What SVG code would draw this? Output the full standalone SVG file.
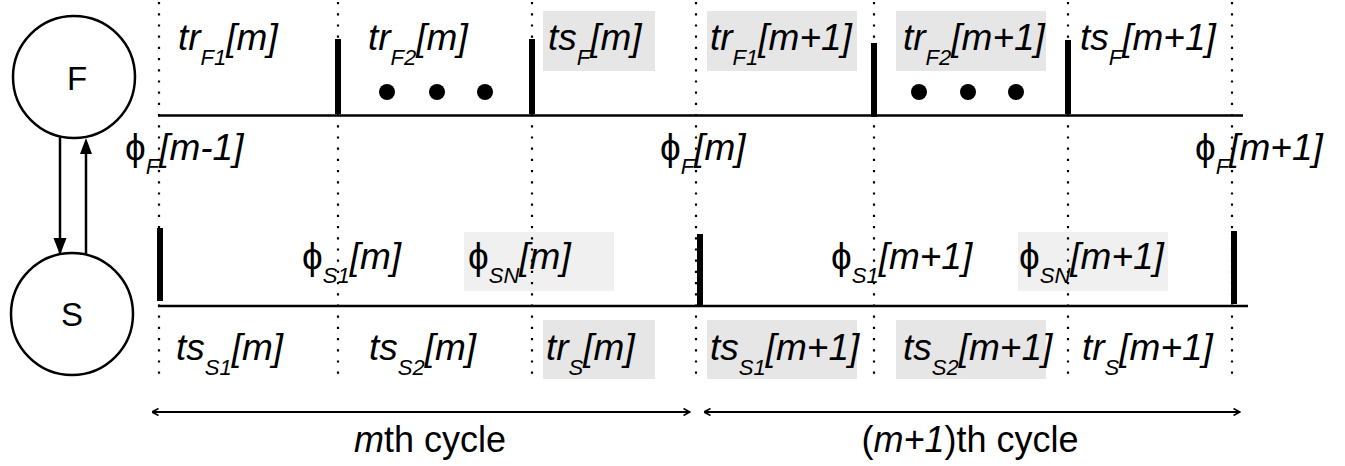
<svg xmlns="http://www.w3.org/2000/svg" width="1345" height="466" viewBox="0 0 1345 466">
<style>
.lbl{font-family:"Liberation Sans",Arial,sans-serif;font-size:37px;font-style:italic;fill:#000}
.up{font-style:normal}
.sub{font-size:22px}
.dot{stroke:#000;stroke-width:2.2;stroke-dasharray:2.2 9;fill:none}
.axis{stroke:#000;stroke-width:2.5;fill:none}
.bar{fill:#000}
.box{fill:#e6e6e6}
.box2{fill:#f0f0f0}
.node{fill:#fff;stroke:#000;stroke-width:2.5}
.ntext{font-family:"Liberation Sans",Arial,sans-serif;font-size:33px;fill:#000;text-anchor:middle}
.cyc{font-family:"Liberation Sans",Arial,sans-serif;font-size:36px;fill:#000;text-anchor:middle}
.conn{stroke:#000;stroke-width:2.5;fill:none}
.span{stroke:#000;stroke-width:2;fill:none}
</style>
<defs>
<marker id="chev" viewBox="0 0 8 8" refX="7.5" refY="4" markerWidth="8" markerHeight="8" markerUnits="userSpaceOnUse" orient="auto-start-reverse">
<path d="M1,0.5 L7.5,4 L1,7.5" fill="none" stroke="#000" stroke-width="1.6"/>
</marker>
</defs>

<g id="boxes">
<rect class="box" x="543" y="11" width="112" height="60"/>
<rect class="box" x="707" y="11" width="150" height="60"/>
<rect class="box" x="896" y="11" width="150" height="60"/>
<rect class="box2" x="464" y="232" width="150" height="59"/>
<rect class="box2" x="1018" y="232" width="150" height="59"/>
<rect class="box" x="543" y="320" width="112" height="59"/>
<rect class="box" x="707" y="320" width="150" height="59"/>
<rect class="box" x="896" y="320" width="150" height="59"/>
</g>

<g id="gridlines">
<line class="dot" x1="159" y1="2" x2="159" y2="378"/>
<line class="dot" x1="338" y1="2" x2="338" y2="378"/>
<line class="dot" x1="532" y1="2" x2="532" y2="378"/>
<line class="dot" x1="696" y1="2" x2="696" y2="378"/>
<line class="dot" x1="874" y1="2" x2="874" y2="378"/>
<line class="dot" x1="1068" y1="2" x2="1068" y2="378"/>
<line class="dot" x1="1232" y1="2" x2="1232" y2="378"/>
</g>

<g id="timeline-F">
<line class="axis" x1="158" y1="115.5" x2="1243" y2="115.5"/>
<rect class="bar" x="335" y="39" width="6" height="75"/>
<rect class="bar" x="529" y="39" width="6" height="75"/>
<rect class="bar" x="871" y="43" width="6" height="74"/>
<rect class="bar" x="1065" y="40" width="6" height="74"/>
<circle cx="387" cy="92" r="8"/>
<circle cx="437" cy="92" r="8"/>
<circle cx="485" cy="92" r="8"/>
<circle cx="919" cy="92" r="8"/>
<circle cx="968" cy="92" r="8"/>
<circle cx="1016" cy="92" r="8"/>
</g>

<g id="timeline-S">
<line class="axis" x1="158" y1="306" x2="1248" y2="306"/>
<rect class="bar" x="157" y="228" width="6" height="73"/>
<rect class="bar" x="697" y="234" width="6" height="71"/>
<rect class="bar" x="1231" y="231" width="6" height="73"/>
</g>

<g id="node-F">
<circle class="node" cx="74" cy="77" r="61"/>
<text class="ntext" x="77" y="90">F</text>
</g>
<g id="node-S">
<circle class="node" cx="72" cy="314" r="61"/>
<text class="ntext" x="72" y="326">S</text>
</g>

<g id="connectors">
<line class="conn" x1="60" y1="136" x2="60" y2="255"/>
<line class="conn" x1="86" y1="254" x2="86" y2="150"/>
<path d="M53.5,238 L66.5,238 L60,255 Z" fill="#000"/>
<path d="M80,154 L92,154 L86,138 Z" fill="#000"/>
<line class="span" x1="152" y1="412" x2="690" y2="412" marker-start="url(#chev)" marker-end="url(#chev)"/>
<line class="span" x1="704" y1="412" x2="1240" y2="412" marker-start="url(#chev)" marker-end="url(#chev)"/>
</g>

<g id="labels-F">
<text class="lbl" x="178" y="50">tr<tspan class="sub" dy="15">F1</tspan><tspan dy="-15">[m]</tspan></text>
<text class="lbl" x="368" y="50">tr<tspan class="sub" dy="15">F2</tspan><tspan dy="-15">[m]</tspan></text>
<text class="lbl" x="548" y="50">ts<tspan class="sub" dy="15">F</tspan><tspan dy="-15">[m]</tspan></text>
<text class="lbl" x="710" y="50">tr<tspan class="sub" dy="15">F1</tspan><tspan dy="-15">[m+1]</tspan></text>
<text class="lbl" x="903" y="50">tr<tspan class="sub" dy="15">F2</tspan><tspan dy="-15">[m+1]</tspan></text>
<text class="lbl" x="1080" y="50">ts<tspan class="sub" dy="15">F</tspan><tspan dy="-15">[m+1]</tspan></text>
</g>

<g id="labels-phiF">
<text class="lbl" x="125" y="160"><tspan class="up">ϕ</tspan><tspan class="sub" dy="14">F</tspan><tspan dy="-14">[m-1]</tspan></text>
<text class="lbl" x="660" y="160"><tspan class="up">ϕ</tspan><tspan class="sub" dy="14">F</tspan><tspan dy="-14">[m]</tspan></text>
<text class="lbl" x="1195" y="160"><tspan class="up">ϕ</tspan><tspan class="sub" dy="14">F</tspan><tspan dy="-14">[m+1]</tspan></text>
</g>

<g id="labels-phiS">
<text class="lbl" x="302" y="269"><tspan class="up">ϕ</tspan><tspan class="sub" dy="14">S1</tspan><tspan dy="-14">[m]</tspan></text>
<text class="lbl" x="468" y="269"><tspan class="up">ϕ</tspan><tspan class="sub" dy="14">SN</tspan><tspan dy="-14">[m]</tspan></text>
<text class="lbl" x="831" y="269"><tspan class="up">ϕ</tspan><tspan class="sub" dy="14">S1</tspan><tspan dy="-14">[m+1]</tspan></text>
<text class="lbl" x="1019" y="269"><tspan class="up">ϕ</tspan><tspan class="sub" dy="14">SN</tspan><tspan dy="-14">[m+1]</tspan></text>
</g>

<g id="labels-S">
<text class="lbl" x="176" y="360">ts<tspan class="sub" dy="15">S1</tspan><tspan dy="-15">[m]</tspan></text>
<text class="lbl" x="369" y="360">ts<tspan class="sub" dy="15">S2</tspan><tspan dy="-15">[m]</tspan></text>
<text class="lbl" x="546" y="360">tr<tspan class="sub" dy="15">S</tspan><tspan dy="-15">[m]</tspan></text>
<text class="lbl" x="710" y="360">ts<tspan class="sub" dy="15">S1</tspan><tspan dy="-15">[m+1]</tspan></text>
<text class="lbl" x="903" y="360">ts<tspan class="sub" dy="15">S2</tspan><tspan dy="-15">[m+1]</tspan></text>
<text class="lbl" x="1082" y="360">tr<tspan class="sub" dy="15">S</tspan><tspan dy="-15">[m+1]</tspan></text>
</g>

<g id="cycles">
<text class="cyc" x="430" y="452"><tspan font-style="italic">m</tspan>th cycle</text>
<text class="cyc" x="970" y="452">(<tspan font-style="italic">m+1</tspan>)th cycle</text>
</g>
</svg>
